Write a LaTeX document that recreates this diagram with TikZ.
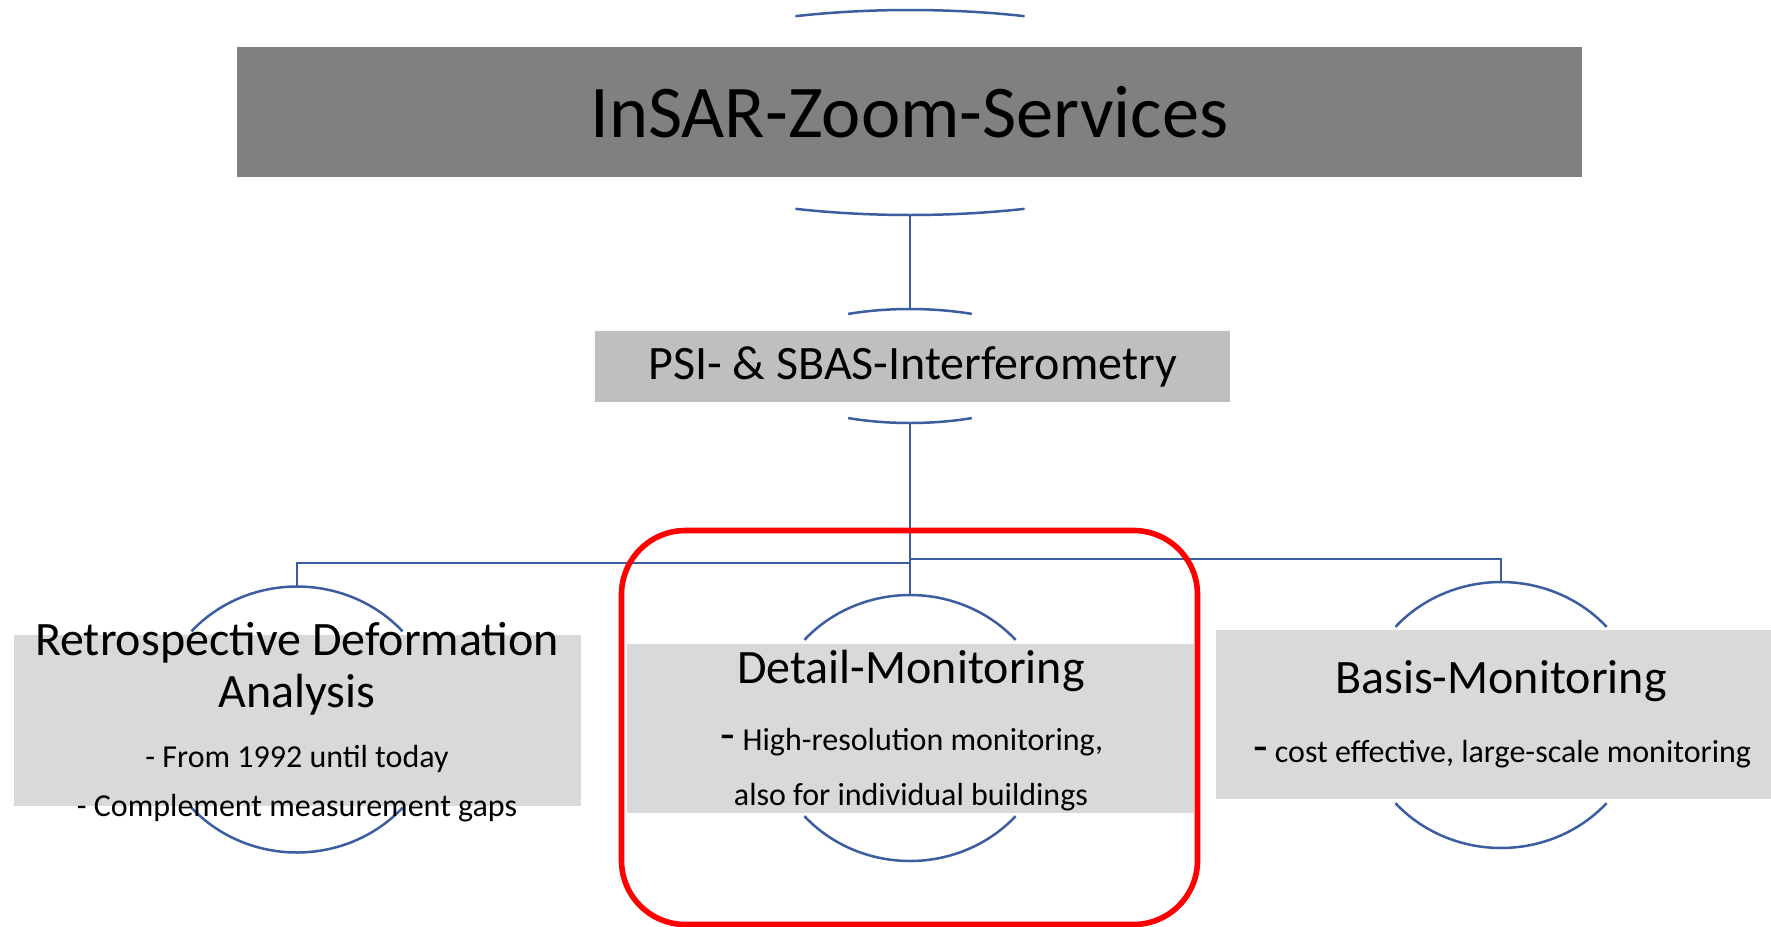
\documentclass[tikz,border=0pt]{standalone}
\usepackage{fontspec}
\setmainfont{Carlito}

\definecolor{linkblue}{RGB}{59,94,161}
\definecolor{grayA}{RGB}{128,128,128}
\definecolor{grayB}{RGB}{191,191,191}
\definecolor{grayC}{RGB}{217,217,217}

\tikzset{
  link/.style={draw=linkblue, line width=1pt},
  rim/.style={draw=linkblue, line width=1.25pt},
  panel/.style={inner sep=0pt, outer sep=0pt},
  head/.style={anchor=base, inner sep=0pt, font=\fontsize{24}{28}\selectfont},
  note/.style={anchor=base, inner sep=0pt, font=\fontsize{16}{19}\selectfont},
}

\begin{document}
\begin{tikzpicture}[x=0.5pt,y=0.5pt]
    \useasboundingbox (0,0) rectangle (1771,-926);

    % ellipse rims behind the boxes
    \coordinate (c-serv) at (910,-112.5);
    \coordinate (c-psi) at (910,-366);
    \draw[rim] (c-serv) ++(70:335 and 102.5) arc[start angle=70,end angle=110,x radius=335,y radius=102.5];
    \draw[rim] (c-serv) ++(250:335 and 102.5) arc[start angle=250,end angle=290,x radius=335,y radius=102.5];
    \draw[rim] (c-psi) ++(66:152 and 57) arc[start angle=66,end angle=114,x radius=152,y radius=57];
    \draw[rim] (c-psi) ++(246:152 and 57) arc[start angle=246,end angle=294,x radius=152,y radius=57];
    \foreach \n/\cx/\cy in {retro/297/-719.5, detail/910/-728, basis/1501/-715}{
        \coordinate (c-\n) at (\cx,\cy);
        \draw[rim] (c-\n) ++(41.5:141 and 133) arc[start angle=41.5,end angle=138.5,x radius=141,y radius=133];
        \draw[rim] (c-\n) ++(221.5:141 and 133) arc[start angle=221.5,end angle=318.5,x radius=141,y radius=133];
    }

    % connectors
    \coordinate (serv-bot) at (910,-215);
    \coordinate (psi-top) at (910,-309);
    \coordinate (psi-bot) at (910,-423);
    \coordinate (split-l) at (910,-563);
    \coordinate (split-r) at (910,-559);
    \coordinate (retro-top) at (297,-586);
    \coordinate (detail-top) at (910,-596);
    \coordinate (basis-top) at (1501,-582);
    \draw[link] (serv-bot) -- (psi-top);
    \draw[link] (psi-bot) -- (split-l) -| (retro-top);
    \draw[link] (split-l) -- (detail-top);
    \draw[link] (split-r) -| (basis-top);

    % boxes
    \node[panel, fill=grayA, minimum width=672.5pt, minimum height=65pt] (serv) at (909.5,-112)
        {\fontsize{37.2}{40}\selectfont InSAR-Zoom-Services};
    \node[panel, fill=grayB, minimum width=317.5pt, minimum height=35.5pt] (psi) at (912.5,-366.5)
        {\fontsize{24}{28}\selectfont PSI- \& SBAS-Interferometry};
    \node[panel, fill=grayC, minimum width=283.5pt, minimum height=85.5pt] (retro) at (297,-720.5) {};
    \node[panel, fill=grayC, minimum width=283.5pt, minimum height=84.5pt] (detail) at (910.5,-728.5) {};
    \node[panel, fill=grayC, minimum width=277.5pt, minimum height=84.5pt] (basis) at (1493.5,-714.5) {};

    % texts
    \node[head] (retro-h1) at (297,-655) {Retrospective Deformation};
    \node[head] (retro-h2) at (297,-707) {Analysis};
    \node[note] (retro-n1) at (297,-767) {- From 1992 until today};
    \node[note] (retro-n2) at (297,-816) {- Complement measurement gaps};

    \node[head] (detail-h) at (911,-683) {Detail-Monitoring};
    \node[note] (detail-n1) at (912,-750) {{\fontsize{24}{28}\selectfont -} High-resolution monitoring,};
    \node[note] (detail-n2) at (911,-805) {also for individual buildings};

    \node[head] (basis-h) at (1501,-693) {Basis-Monitoring};
    \node[note] (basis-n) at (1502,-762) {{\fontsize{24}{28}\selectfont -} cost effective, large-scale monitoring};

    % highlight
    \node[panel, draw=red, line width=2.8pt, rounded corners=32pt,
          minimum width=288pt, minimum height=197pt] (focus) at (909.5,-727.5) {};
\end{tikzpicture}
\end{document}
